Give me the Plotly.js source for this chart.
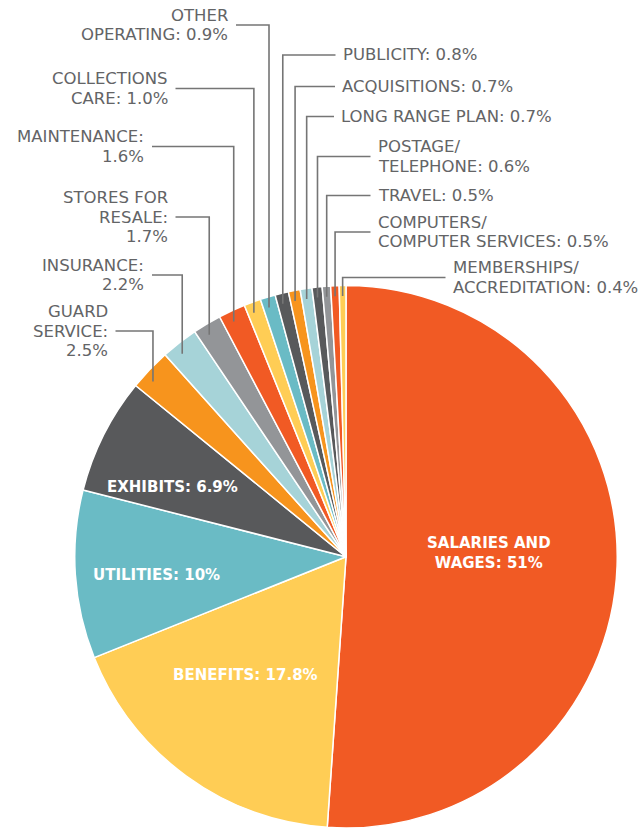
<!DOCTYPE html>
<html>
<head>
<meta charset="utf-8">
<script src="https://cdn.plot.ly/plotly-3.0.1.min.js"></script>
<style>
html,body{margin:0;padding:0;background:#ffffff;}
#chart{width:644px;height:828px;}
</style>
</head>
<body>
<div id="chart"></div>
<script>
// ---------- DATA ----------
const categories = ["SALARIES AND WAGES","BENEFITS","UTILITIES","EXHIBITS","GUARD SERVICE","INSURANCE",
  "STORES FOR RESALE","MAINTENANCE","COLLECTIONS CARE","OTHER OPERATING","PUBLICITY","ACQUISITIONS",
  "LONG RANGE PLAN","POSTAGE/ TELEPHONE","TRAVEL","COMPUTERS/ COMPUTER SERVICES","MEMBERSHIPS/ ACCREDITATION"];
const values = [51, 17.8, 10, 6.9, 2.5, 2.2, 1.7, 1.6, 1.0, 0.9, 0.8, 0.7, 0.7, 0.6, 0.5, 0.5, 0.4];
const valueLabels = ["51%","17.8%","10%","6.9%","2.5%","2.2%","1.7%","1.6%","1.0%","0.9%","0.8%","0.7%",
  "0.7%","0.6%","0.5%","0.5%","0.4%"];

// ---------- STYLE / LAYOUT ----------
const ORANGE_RED = "#F15A24", YELLOW = "#FFCD55", TEAL = "#6ABBC5", DARK = "#58595B",
      ORANGE = "#F7941D", LIGHTBLUE = "#A6D3D8", GRAY = "#939598";
const sliceColors = [ORANGE_RED, YELLOW, TEAL, DARK, ORANGE, LIGHTBLUE, GRAY, ORANGE_RED, YELLOW, TEAL,
  DARK, ORANGE, LIGHTBLUE, DARK, GRAY, ORANGE_RED, YELLOW];

// words per line of each label
const wordsPerLine = [[2,2],[2],[2],[2],[1,1,1],[1,1],[2,1,1],[1,1],[1,2],[1,2],[2],[2],[4],[1,2],[2],[1,3],[1,2]];
// inside labels: offset from the pie centre, in units of the radius
const insidePos = {0:[0.527,-0.015], 1:[-0.372,0.436], 2:[-0.699,0.067], 3:[-0.638,-0.257]};
// outside labels: side, text edge x (px), label centre y (px)
const outsidePos = {
  4:{side:"left", x:108.5, y:331},
  5:{side:"left", x:145, y:275},
  6:{side:"left", x:168.5, y:217},
  7:{side:"left", x:145, y:146.5},
  8:{side:"left", x:168.5, y:88.5},
  9:{side:"left", x:229, y:25},
  10:{side:"right", x:341.5, y:55},
  11:{side:"right", x:341, y:86.5},
  12:{side:"right", x:340, y:116.5},
  13:{side:"right", x:376.5, y:156.5},
  14:{side:"right", x:376.5, y:195.5},
  15:{side:"right", x:376.5, y:232},
  16:{side:"right", x:451.5, y:277.5}
};

const W = 644, H = 828;
const dom = {x:[0.1141, 0.9604], y:[0, 0.6552]};
const LINE_H = 19.3;
const OUT_FONT = {family:"DejaVu Sans", size:16.5, color:"#636466"};
const IN_FONT = {family:"DejaVu Sans", size:15, color:"#ffffff", weight:"bold"};

function labelLines(i){
  const words = (categories[i] + ": " + valueLabels[i]).split(" ");
  const lines = []; let k = 0;
  wordsPerLine[i].forEach(n => { lines.push(words.slice(k, k+n).join(" ")); k += n; });
  return lines;
}

const trace = {
  type: "pie",
  labels: categories,
  values: values,
  sort: false,
  direction: "clockwise",
  rotation: 0,
  marker: {colors: sliceColors, line: {color: "#ffffff", width: 1.5}},
  textinfo: "none",
  hoverinfo: "skip",
  domain: dom,
  showlegend: false
};

const layout = {
  width: W, height: H,
  margin: {l:0, r:0, t:0, b:0},
  paper_bgcolor: "#ffffff",
  plot_bgcolor: "#ffffff",
  showlegend: false
};

Plotly.newPlot("chart", [trace], layout, {staticPlot: true, displayModeBar: false}).then(gd => {
  let cx, cy, r;
  try {
    const cd0 = gd.calcdata[0][0];
    cx = cd0.cx; cy = cd0.cy; r = cd0.r;
  } catch(e) {}
  if (!(r > 0)) {
    cx = W*(dom.x[0]+dom.x[1])/2;
    cy = H - H*(dom.y[0]+dom.y[1])/2;
    r = Math.min(W*(dom.x[1]-dom.x[0]), H*(dom.y[1]-dom.y[0]))/2;
  }
  const total = values.reduce((a,b)=>a+b, 0);
  const px = x => x / W, py = y => 1 - y / H;
  const annotations = [], shapes = [];
  let cum = 0;
  values.forEach((v, i) => {
    const mid = (cum + v/2) / total * 2 * Math.PI;
    cum += v;
    const s = Math.sin(mid), c = Math.cos(mid);
    const lines = labelLines(i);
    if (insidePos[i] !== undefined) {
      const o = insidePos[i];
      annotations.push({
        xref:"paper", yref:"paper", x: px(cx + o[0]*r), y: py(cy + o[1]*r),
        xanchor:"center", yanchor:"middle", align:"center", showarrow:false, borderpad:0,
        text: lines.join("<br>"), font: IN_FONT
      });
    } else {
      const p = outsidePos[i];
      const n = lines.length;
      lines.forEach((t, j) => {
        annotations.push({
          xref:"paper", yref:"paper", x: px(p.x), y: py(p.y + (j - (n-1)/2)*LINE_H),
          xanchor: p.side === "left" ? "right" : "left", yanchor:"middle",
          align: p.side === "left" ? "right" : "left", showarrow:false, borderpad:0,
          text: t, font: OUT_FONT
        });
      });
      const dx = (r - 4.5) * s;
      const lx = cx + dx;
      const endY = cy - Math.sqrt(Math.pow(r - 10.5, 2) - dx*dx);
      const hx = p.side === "left" ? p.x + 7 : p.x - 6;
      shapes.push({
        type:"path", xref:"paper", yref:"paper",
        path: `M ${px(lx)},${py(endY)} L ${px(lx)},${py(p.y)} L ${px(hx)},${py(p.y)}`,
        line: {color:"#757575", width:1.6}
      });
    }
  });
  return Plotly.relayout(gd, {annotations: annotations, shapes: shapes});
});
</script>
</body>
</html>
